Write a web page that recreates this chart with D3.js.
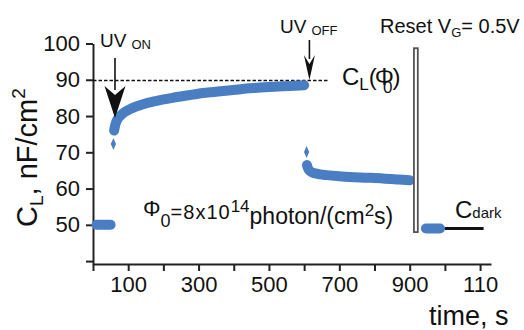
<!DOCTYPE html>
<meta charset="utf-8">
<script src="https://d3js.org/d3.v7.min.js"></script>
<style>
  body { margin: 0; background: #fff; }
  text { font-family: "Liberation Sans", Arial, sans-serif; fill: #111; }
</style>
<div id="chart"></div>
<script>
  // axis ticks
  var xTicks = [0, 100, 200, 300, 400, 500, 600, 700, 800, 900, 1000, 1100];
  var xTickLabels = ["", "100", "", "300", "", "500", "", "700", "", "900", "", "110"];
  var yTicks = [40, 50, 60, 70, 80, 90, 100];
  var yTickLabels = ["", "50", "60", "70", "80", "90", "100"];

  // dark level before UV
  var tPre = [10, 50];
  var cPre = [50, 50];

  // UV on: rise
  var tRise = [60, 64, 69, 77, 90, 105, 140, 181, 230, 276, 320, 369, 420, 466, 515, 560, 600];
  var cRise = [76.0, 77.8, 79.0, 80.0, 81.1, 81.9, 83.2, 84.2, 85.1, 85.8, 86.4, 86.9, 87.4, 87.8, 88.1, 88.3, 88.5];

  // UV off: decay
  var tDecay = [608, 610, 614, 620, 630, 645, 664, 700, 730, 780, 824, 870, 900];
  var cDecay = [66.5, 65.8, 65.1, 64.6, 64.2, 63.9, 63.7, 63.4, 63.2, 63.0, 62.8, 62.5, 62.3];

  // single spikes at the switching moments
  var tSpike = [58, 607];
  var cSpike = [72.3, 70.1];

  // after reset
  var tDark = [946, 986];
  var cDark = [49, 49];
  var tDarkRef = [1000, 1110];
  var cDarkRef = [49, 49];

  // saturation level C_L(phi0)
  var tSat = [0, 670];
  var cSat = [89.8, 89.8];

  // reset pulse
  var tReset = [912, 923];
  var cReset = [98.7, 48];

  // switch times
  var tOn = 62.5, tOff = 615;

  var W = 524, H = 330;
  var blue = "#4a7ec2";

  var svg = d3.select("#chart").append("svg")
    .attr("width", W)
    .attr("height", H);

  var x = d3.scaleLinear().domain([0, 1131]).range([93, 491]);
  var y = d3.scaleLinear().domain([39.2, 100]).range([264, 43.5]);

  function pts(ts, cs) { return ts.map(function (t, i) { return [t, cs[i]]; }); }
  var line = d3.line().x(function (d) { return x(d[0]); }).y(function (d) { return y(d[1]); });

  // axes
  var xAxis = svg.append("g")
    .attr("transform", "translate(0," + y(39.2) + ")")
    .call(d3.axisBottom(x).tickValues(xTicks)
      .tickFormat(function (d, i) { return xTickLabels[i]; })
      .tickSize(7).tickSizeOuter(0).tickPadding(5));
  var yAxis = svg.append("g")
    .attr("transform", "translate(" + x(0) + ",0)")
    .call(d3.axisLeft(y).tickValues(yTicks)
      .tickFormat(function (d, i) { return yTickLabels[i]; })
      .tickSize(7).tickSizeOuter(0).tickPadding(6));
  [xAxis, yAxis].forEach(function (a) {
    a.selectAll("path, line").attr("stroke", "#222").attr("stroke-width", 2);
    a.selectAll("text").style("font-size", "22px").attr("fill", "#111");
  });

  // dashed saturation line
  svg.append("path")
    .datum(pts(tSat, cSat))
    .attr("d", line)
    .attr("fill", "none")
    .attr("stroke", "#111")
    .attr("stroke-width", 1.3)
    .attr("stroke-dasharray", "3.5,2");

  // data bands
  [pts(tPre, cPre), pts(tRise, cRise), pts(tDecay, cDecay), pts(tDark, cDark)].forEach(function (d) {
    svg.append("path")
      .datum(d)
      .attr("d", line.curve(d3.curveMonotoneX))
      .attr("fill", "none")
      .attr("stroke", blue)
      .attr("stroke-width", 10)
      .attr("stroke-linecap", "round")
      .attr("stroke-linejoin", "round");
  });

  // spikes
  svg.selectAll(".spike")
    .data(pts(tSpike, cSpike))
    .enter()
    .append("path")
    .attr("class", "spike")
    .attr("transform", function (d) { return "translate(" + x(d[0]) + "," + y(d[1]) + ")"; })
    .attr("d", "M0,-6L2.6,0L0,6L-2.6,0Z")
    .attr("fill", blue);

  // dark reference line
  svg.append("path")
    .datum(pts(tDarkRef, cDarkRef))
    .attr("d", line.curve(d3.curveLinear))
    .attr("fill", "none")
    .attr("stroke", "#111")
    .attr("stroke-width", 3);

  // reset bar
  svg.append("rect")
    .attr("x", x(tReset[0]))
    .attr("y", y(cReset[0]))
    .attr("width", x(tReset[1]) - x(tReset[0]))
    .attr("height", y(cReset[1]) - y(cReset[0]))
    .attr("fill", "#fff")
    .attr("stroke", "#555")
    .attr("stroke-width", 1.8);

  // arrows
  function arrow(xc, y0, y1, hw, hl) {
    svg.append("line")
      .attr("x1", xc).attr("x2", xc)
      .attr("y1", y0).attr("y2", y1 - hl + 4)
      .attr("stroke", "#111").attr("stroke-width", 1.6);
    svg.append("path")
      .attr("d", "M" + xc + "," + y1 + "L" + (xc - hw) + "," + (y1 - hl) + "L" + xc + "," + (y1 - hl + 9) +
        "L" + (xc + hw) + "," + (y1 - hl) + "Z")
      .attr("fill", "#111");
  }
  arrow(x(tOn), 58, 118, 10.5, 32);
  arrow(x(tOff), 40, 80, 5.5, 25);

  // labels
  var t1 = svg.append("text").attr("x", 100).attr("y", 47);
  t1.append("tspan").style("font-size", "19px").text("UV");
  t1.append("tspan").attr("dx", 5).attr("dy", 2).style("font-size", "13px").text("ON");

  var t2 = svg.append("text").attr("x", 280).attr("y", 33);
  t2.append("tspan").style("font-size", "19px").text("UV");
  t2.append("tspan").attr("dx", 5).attr("dy", 2).style("font-size", "13px").text("OFF");

  var t3 = svg.append("text").attr("x", 380).attr("y", 33).style("font-size", "20px");
  t3.append("tspan").text("Reset V");
  t3.append("tspan").attr("dy", 4).style("font-size", "13px").text("G");
  t3.append("tspan").attr("dy", -4).text("= 0.5V");

  var t4 = svg.append("text").attr("x", 342).attr("y", 85).style("font-size", "24px");
  t4.append("tspan").text("C");
  t4.append("tspan").attr("dy", 5).style("font-size", "17px").text("L");
  t4.append("tspan").attr("dy", -5).text("(");
  t4.append("tspan").attr("dx", -2).text("\u03A6");
  t4.append("tspan").attr("dx", -11).attr("dy", 8).style("font-size", "17px").text("0");
  t4.append("tspan").attr("dy", -8).text(")");

  var t5 = svg.append("text").attr("x", 143).attr("y", 216).style("font-size", "22px");
  t5.append("tspan").text("\u03A6");
  t5.append("tspan").attr("dy", 11).style("font-size", "18px").text("0");
  t5.append("tspan").attr("dy", -8).style("font-size", "20px").attr("letter-spacing", 1).text("=8x10");
  t5.append("tspan").attr("dy", -7).style("font-size", "17px").attr("letter-spacing", 0).text("14");
  t5.append("tspan").attr("dy", 12).style("font-size", "23px").text("photon/(cm");
  t5.append("tspan").attr("dy", -8).style("font-size", "17px").text("2");
  t5.append("tspan").attr("dy", 8).style("font-size", "23px").text("s)");

  var t6 = svg.append("text").attr("x", 455).attr("y", 218);
  t6.append("tspan").style("font-size", "24px").text("C");
  t6.append("tspan").style("font-size", "15px").text("dark");

  svg.append("text")
    .attr("x", 429).attr("y", 325)
    .style("font-size", "27px")
    .text("time, s");

  var t7 = svg.append("text")
    .attr("transform", "translate(37,227) rotate(-90)")
    .style("font-size", "29px");
  t7.append("tspan").text("C");
  t7.append("tspan").attr("dy", 6).style("font-size", "19px").text("L");
  t7.append("tspan").attr("dy", -6).text(", nF/cm");
  t7.append("tspan").attr("dy", -12).style("font-size", "19px").text("2");
</script>
